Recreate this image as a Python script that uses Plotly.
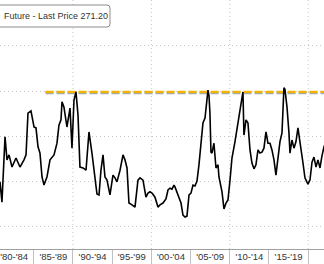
import plotly.graph_objects as go

# ---- data ----
years = [1980.69, 1980.94, 1981.33, 1981.58, 1981.84, 1982.22, 1982.73, 1983.24, 1983.75, 1984.01,
         1984.26, 1984.64, 1985.03, 1985.28, 1985.54, 1985.79, 1986.05, 1986.30, 1986.68, 1987.07,
         1987.58, 1987.96, 1988.21, 1988.47, 1988.60, 1988.85, 1989.23, 1989.62, 1989.87, 1990.13,
         1990.38, 1990.64, 1990.89, 1991.28, 1991.66, 1992.04, 1992.42, 1992.81, 1993.06, 1993.32,
         1993.57, 1993.83, 1994.08, 1994.34, 1994.72, 1995.10, 1995.36, 1995.61, 1996.00, 1996.38,
         1996.63, 1996.89, 1997.14, 1997.53, 1997.91, 1998.29, 1998.55, 1998.93, 1999.31, 1999.57,
         1999.82, 2000.08, 2000.46, 2000.84, 2001.10, 2001.48, 2001.86, 2002.12, 2002.37, 2002.63,
         2002.88, 2003.01, 2003.39, 2003.78, 2004.03, 2004.29, 2004.54, 2004.80, 2005.05, 2005.31,
         2005.56, 2005.82, 2006.07, 2006.33, 2006.45, 2006.58, 2006.84, 2006.96, 2007.22, 2007.35,
         2007.47, 2007.60, 2007.73, 2007.98, 2008.24, 2008.50, 2008.62, 2009.01, 2009.26, 2009.52,
         2009.77, 2010.03, 2010.28, 2010.66, 2011.17, 2011.68, 2011.81, 2012.07, 2012.32, 2012.58,
         2012.83, 2013.09, 2013.34, 2013.60, 2013.85, 2014.11, 2014.36, 2014.62, 2014.87, 2015.13,
         2015.38, 2015.64, 2015.89, 2016.15, 2016.40, 2016.66, 2016.79, 2016.91, 2017.04, 2017.30,
         2017.55, 2017.68, 2017.93, 2018.19, 2018.44, 2018.70, 2018.95, 2019.21, 2019.34, 2019.59,
         2019.97, 2020.23, 2020.49, 2020.74, 2021.00, 2021.25, 2021.51, 2021.76, 2022.02, 2022.40]
prices = [198, 153, 298, 247, 258, 231, 251, 231, 247, 258,
          351, 356, 320, 318, 276, 262, 209, 191, 209, 247,
          258, 284, 324, 336, 376, 364, 320, 362, 273, 380,
          398, 347, 231, 229, 224, 309, 262, 209, 171, 169,
          224, 258, 209, 202, 169, 213, 207, 198, 224, 258,
          247, 229, 151, 147, 142, 202, 207, 202, 164, 173,
          176, 173, 164, 142, 147, 151, 160, 180, 184, 182,
          191, 187, 171, 151, 124, 120, 122, 169, 173, 191,
          189, 200, 236, 276, 302, 329, 340, 364, 402, 389,
          351, 264, 262, 284, 229, 236, 209, 176, 138, 151,
          158, 202, 251, 287, 342, 398, 302, 336, 329, 269,
          240, 227, 236, 269, 262, 264, 273, 309, 284, 284,
          269, 247, 213, 251, 287, 307, 351, 407, 404, 364,
          307, 262, 291, 273, 287, 318, 287, 247, 240, 207,
          193, 202, 242, 253, 231, 247, 229, 256, 276, 291]

high_level = 398
high_start = 1986.5
high_end = 2023.0

tick_centers = [1982.5, 1987.5, 1992.5, 1997.5, 2002.5, 2007.5, 2012.5, 2017.5, 2022.5]
tick_labels = ["'80-'84", "'85-'89", "'90-'94", "'95-'99", "'00-'04", "'05-'09", "'10-'14", "'15-'19", "'20-'24"]
period_bounds = [1980, 1985, 1990, 1995, 2000, 2005, 2010, 2015, 2020, 2025]
grid_years = [1990, 2000, 2010, 2020]
legend_text = "Future - Last Price 271.20"

X_RANGE = [1980.69, 2022.02]
Y_RANGE = [48.9, 602.2]
GRID = "#c4c4c4"
DOTS = "1px,3px"

fig = go.Figure()

# threshold line: grey shadow + gold dashes
fig.add_trace(go.Scatter(x=[high_start, high_end], y=[high_level - 2.5, high_level - 2.5],
                         mode="lines", line=dict(color="#a8a8a8", width=2.4, dash="8px,3px"),
                         hoverinfo="skip", showlegend=False))
fig.add_trace(go.Scatter(x=[high_start, high_end], y=[high_level, high_level],
                         mode="lines", line=dict(color="#f2b400", width=2.4, dash="8px,3px"),
                         hoverinfo="skip", showlegend=False))

fig.add_trace(go.Scatter(x=years, y=prices, mode="lines",
                         line=dict(color="#000000", width=1.6),
                         showlegend=False))

# empty trace so the label axis (x2) is drawn
fig.add_trace(go.Scatter(x=tick_centers, y=[None] * len(tick_centers), xaxis="x2",
                         mode="lines", hoverinfo="skip", showlegend=False))

shapes = []
for g in grid_years:
    shapes.append(dict(type="line", xref="x", yref="paper", x0=g, x1=g, y0=0, y1=1,
                       line=dict(color=GRID, width=1, dash=DOTS), layer="below"))

# rounded legend box (cut off at the left edge)
W, H = 324.0, 249.0
x0, x1 = -5 / W, 110 / W
ytop, ybot = 1 - 5 / H, 1 - 27 / H
rx, ry = 3 / W, 3 / H
path = (f"M {x0},{ybot} L {x1 - rx},{ybot} Q {x1},{ybot} {x1},{ybot + ry} "
        f"L {x1},{ytop - ry} Q {x1},{ytop} {x1 - rx},{ytop} L {x0},{ytop} Z")
shapes.append(dict(type="path", xref="paper", yref="paper", path=path,
                   fillcolor="white", line=dict(color="#8c8c8c", width=1), layer="above"))

fig.update_layout(
    width=324, height=264,
    margin=dict(l=0, r=0, t=0, b=15),
    paper_bgcolor="white", plot_bgcolor="white",
    showlegend=False,
    shapes=shapes,
    annotations=[dict(text=legend_text, xref="paper", yref="paper",
                      x=2 / W, y=1 - 16 / H, xanchor="left", yanchor="middle",
                      showarrow=False,
                      font=dict(family="Liberation Sans", size=9, color="#333333"))],
    xaxis=dict(range=X_RANGE, tickvals=period_bounds, ticktext=[""] * len(period_bounds),
               ticks="outside", ticklen=15, tickcolor="#c0c0c0", tickwidth=1,
               showgrid=False, zeroline=False,
               showline=True, linecolor="#a0a0a0", linewidth=1),
    xaxis2=dict(range=X_RANGE, overlaying="x", anchor="y", side="bottom",
                tickvals=tick_centers, ticktext=tick_labels, ticks="",
                showgrid=False, zeroline=False, showline=False,
                tickfont=dict(family="Liberation Sans", size=9.5, color="#333333")),
    yaxis=dict(range=Y_RANGE, dtick=100, tick0=0, showticklabels=False, ticks="",
               showgrid=True, gridcolor=GRID, griddash=DOTS, gridwidth=1,
               zeroline=False, showline=False),
)

fig.write_html("out.html")
